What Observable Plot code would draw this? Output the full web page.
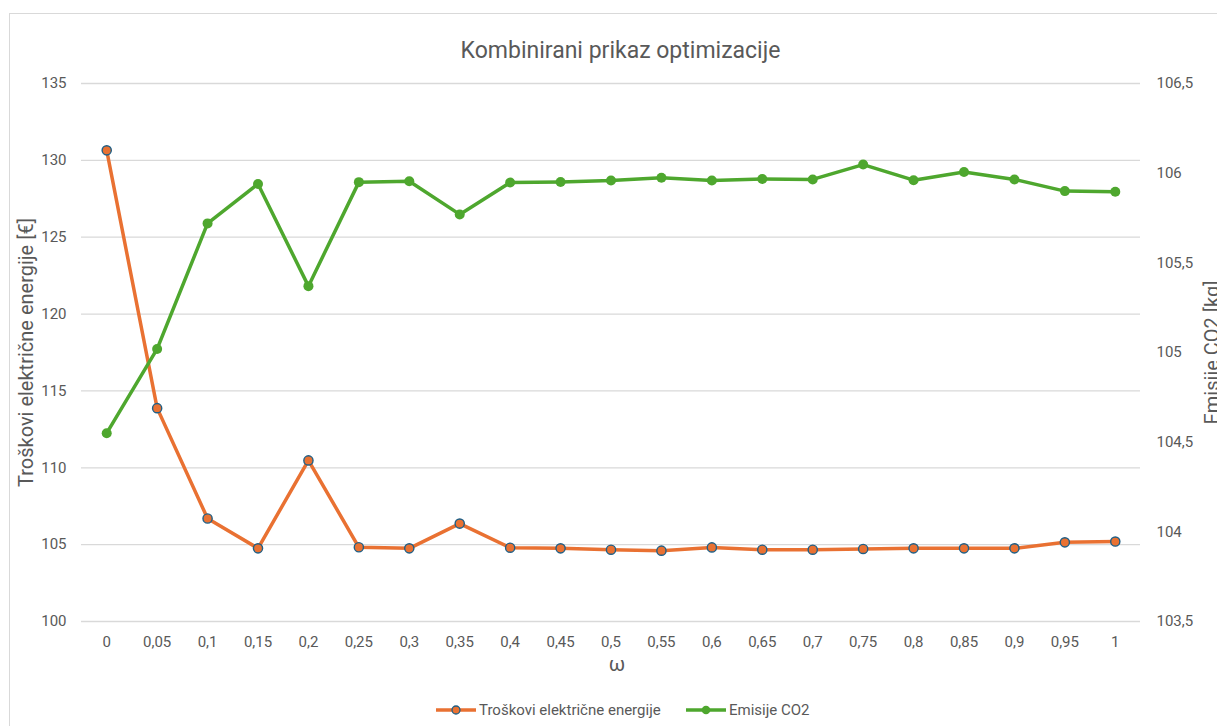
<!DOCTYPE html>
<html>
<head>
<meta charset="utf-8">
<script src="https://cdn.jsdelivr.net/npm/d3@7"></script>
<script src="https://cdn.jsdelivr.net/npm/@observablehq/plot@0.6"></script>
<style>
  html, body { margin: 0; padding: 0; background: #fff; overflow: hidden; }
  #wrap { position: relative; width: 1217px; height: 726px; overflow: hidden; font-family: Roboto, "Noto Sans", sans-serif; }
  #frame { position: absolute; left: 9px; top: 13px; width: 1300px; height: 800px; border: 1px solid #d9d9d9; box-sizing: border-box; }
  #chart { position: absolute; left: 0; top: 0; }
  .leg { position: absolute; top: 701px; display: flex; align-items: center; font-size: 15px; color: #595959; white-space: nowrap; }
  .leg svg { display: block; margin-right: 3px; }
</style>
</head>
<body>
<div id="wrap">
  <div id="frame"></div>
  <div id="chart"></div>
  <div class="leg" id="leg1"></div>
  <div class="leg" id="leg2"></div>
</div>
<script>
// ---- data ----
const omega = ["0","0,05","0,1","0,15","0,2","0,25","0,3","0,35","0,4","0,45","0,5","0,55","0,6","0,65","0,7","0,75","0,8","0,85","0,9","0,95","1"];
const cost = [130.65, 113.88, 106.70, 104.76, 110.48, 104.83, 104.76, 106.37, 104.80, 104.76, 104.67, 104.61, 104.82, 104.67, 104.67, 104.72, 104.76, 104.76, 104.76, 105.15, 105.20];
const emissions = [104.55, 105.02, 105.72, 105.94, 105.37, 105.95, 105.955, 105.77, 105.948, 105.951, 105.959, 105.974, 105.959, 105.967, 105.965, 106.048, 105.961, 106.007, 105.965, 105.900, 105.896];
const costTicks = [100, 105, 110, 115, 120, 125, 130, 135];
const emisTicks = [103.5, 104, 104.5, 105, 105.5, 106, 106.5];
const costName = "Troškovi električne energije";
const emisName = "Emisije CO2";
const titleText = "Kombinirani prikaz optimizacije";
const yLeftLabel = "Troškovi električne energije [€]";
const yRightLabel = "Emisije CO2 [kg]";
const xLabel = "ω";

// ---- colours ----
const orange = "#E97132", green = "#4EA72E", markerEdge = "#1F5F86", grey = "#595959";

// map right-axis (emissions) domain onto left-axis (cost) domain
const costDom = [100, 135], emisDom = [103.5, 106.5];
const toLeft = v => costDom[0] + (v - emisDom[0]) * (costDom[1] - costDom[0]) / (emisDom[1] - emisDom[0]);
const fromLeft = v => emisDom[0] + (v - costDom[0]) * (emisDom[1] - emisDom[0]) / (costDom[1] - costDom[0]);
const fmt = v => String(Math.round(v * 10) / 10).replace(".", ",");

const rows = omega.map((w, i) => ({w, cost: cost[i], em: toLeft(emissions[i])}));

const chart = Plot.plot({
  width: 1217,
  height: 726,
  marginTop: 83,
  marginBottom: 105,
  marginLeft: 81,
  marginRight: 77,
  style: {fontFamily: "Roboto, 'Noto Sans', sans-serif", fontSize: "15px", color: grey, background: "transparent"},
  x: {type: "point", domain: omega, padding: 0.5, round: false},
  y: {domain: costDom},
  marks: [
    Plot.ruleY(costTicks, {stroke: "#d9d9d9", strokeWidth: 1.3}),
    Plot.axisY(costTicks, {tickSize: 0, tickPadding: 15, label: null, fill: grey}),
    Plot.axisY(emisTicks.map(toLeft), {anchor: "right", tickSize: 0, tickPadding: 16, label: null, fill: grey, tickFormat: d => fmt(fromLeft(d))}),
    Plot.axisX({tickSize: 0, tickPadding: 15, label: null, fill: grey}),
    Plot.line(rows, {x: "w", y: "cost", stroke: orange, strokeWidth: 3.5}),
    Plot.dot(rows, {x: "w", y: "cost", r: 4.6, fill: orange, stroke: markerEdge, strokeWidth: 1.4}),
    Plot.line(rows, {x: "w", y: "em", stroke: green, strokeWidth: 3.5}),
    Plot.dot(rows, {x: "w", y: "em", r: 5, fill: green}),
    Plot.text([titleText], {frameAnchor: "top", textAnchor: "middle", dx: 9.5, dy: -42, fontSize: 23, fill: grey}),
    Plot.text([yLeftLabel], {frameAnchor: "left", textAnchor: "middle", dx: -55, rotate: -90, fontSize: 20, fill: grey}),
    Plot.text([yRightLabel], {frameAnchor: "right", textAnchor: "middle", dx: 72.5, rotate: -90, fontSize: 20, fill: grey}),
    Plot.text([xLabel], {frameAnchor: "bottom", textAnchor: "middle", dx: 6, dy: 49, fontSize: 20, fill: grey})
  ]
});
document.getElementById("chart").appendChild(chart);

// ---- legend ----
function swatch(color, edge) {
  const s = d3.create("svg").attr("width", 40).attr("height", 12);
  s.append("line").attr("x1", 0).attr("x2", 40).attr("y1", 6).attr("y2", 6).attr("stroke", color).attr("stroke-width", 3.5);
  s.append("circle").attr("cx", 20).attr("cy", 6).attr("r", edge ? 4 : 4.3).attr("fill", color)
    .attr("stroke", edge || "none").attr("stroke-width", edge ? 1.3 : 0);
  return s.node();
}
const l1 = document.getElementById("leg1");
l1.style.left = "436px";
l1.appendChild(swatch(orange, markerEdge));
l1.appendChild(Object.assign(document.createElement("span"), {textContent: costName}));
const l2 = document.getElementById("leg2");
l2.style.left = "686px";
l2.appendChild(swatch(green, null));
l2.appendChild(Object.assign(document.createElement("span"), {textContent: emisName}));
</script>
</body>
</html>
